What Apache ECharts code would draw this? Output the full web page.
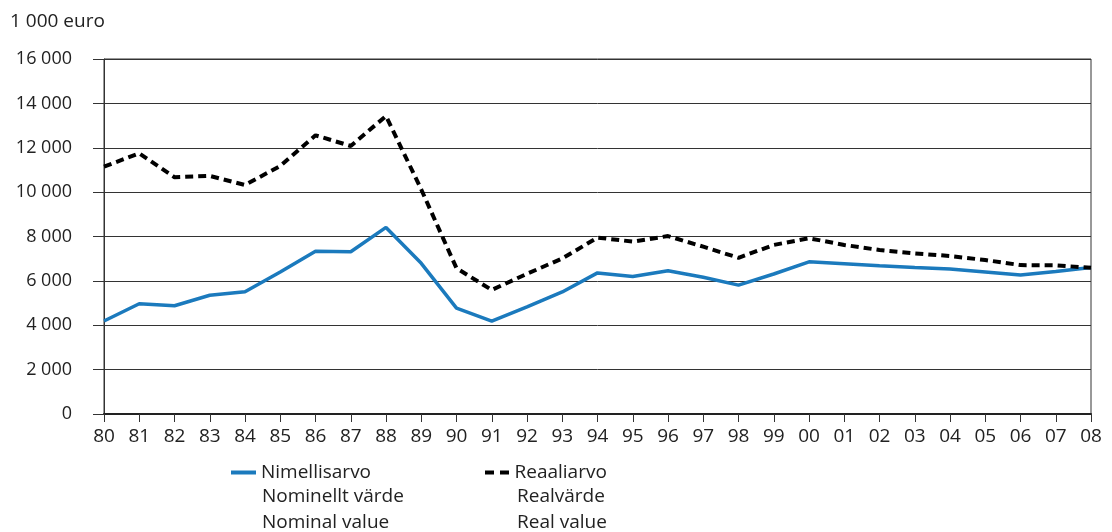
<!DOCTYPE html>
<html>
<head>
<meta charset="utf-8">
<script src="https://cdn.jsdelivr.net/npm/echarts@6/dist/echarts.min.js"></script>
<style>
  html, body { margin: 0; padding: 0; background: #fff; }
  #main { width: 1112px; height: 532px; }
</style>
</head>
<body>
<div id="main"></div>
<script>
  // vuodet 1980-2008
  var years = ['80','81','82','83','84','85','86','87','88','89','90','91','92','93','94',
    '95','96','97','98','99','00','01','02','03','04','05','06','07','08'];

  // nimellisarvo (1 000 euro)
  var nominal = [4190, 4970, 4880, 5350, 5510, 6400, 7340, 7310, 8410, 6790, 4770, 4190, 4830, 5500, 6360,
    6200, 6460, 6160, 5810, 6310, 6860, 6770, 6680, 6600, 6530, 6400, 6260, 6420, 6600];

  // reaaliarvo (1 000 euro)
  var real = [11150, 11750, 10670, 10730, 10320, 11180, 12560, 12080, 13430, 10120, 6570, 5590, 6320, 7010, 7950,
    7770, 8020, 7540, 7040, 7620, 7920, 7620, 7390, 7240, 7120, 6940, 6710, 6700, 6590];

  // selitteen lisärivit (ruotsi, englanti)
  var nominalExtra = ['Nominellt värde', 'Nominal value'];
  var realExtra = ['Realvärde', 'Real value'];

  var font = '"Open Sans", "Noto Sans", sans-serif';
  var txt = '#222';

  function legendCfg(name, left, icon) {
    return {
      data: [{ name: name, icon: icon }],
      left: left,
      top: 458,
      itemWidth: 25,
      itemHeight: 4,
      itemGap: 6,
      selectedMode: false,
      textStyle: { fontFamily: font, fontSize: 19, color: txt }
    };
  }

  function extraText(lines, x) {
    return lines.map(function (s, i) {
      return {
        type: 'text',
        left: x,
        top: 487 + i * 26,
        style: { text: s, fill: txt, font: '19px ' + font }
      };
    });
  }

  var option = {
    animation: false,
    textStyle: { fontFamily: font },
    grid: {
      left: 104,
      right: 21,
      top: 59,
      bottom: 118,
      show: true,
      borderColor: '#333',
      borderWidth: 1
    },
    legend: [
      legendCfg('Nimellisarvo', 226, 'path://M0,0H25V4H0Z'),
      legendCfg('Reaaliarvo', 480, 'path://M0,0H9V4H0Z M15,0H24V4H15Z')
    ],
    graphic: extraText(nominalExtra, 262).concat(extraText(realExtra, 517)),
    xAxis: {
      type: 'category',
      data: years,
      boundaryGap: false,
      axisLine: { lineStyle: { color: '#222', width: 2 } },
      axisTick: { length: 8, lineStyle: { color: '#333', width: 1 } },
      axisLabel: { color: txt, fontSize: 19, margin: 13, interval: 0, fontFamily: font }
    },
    yAxis: {
      type: 'value',
      min: 0,
      max: 16000,
      interval: 2000,
      name: '1 000 euro',
      nameLocation: 'end',
      nameGap: 28,
      nameTextStyle: { color: txt, fontSize: 19, align: 'left', padding: [0, 0, 0, -94], fontFamily: font },
      axisLine: { show: true, lineStyle: { color: '#333', width: 1 } },
      axisTick: { show: true, length: 11, lineStyle: { color: '#333' } },
      axisLabel: {
        color: txt,
        fontSize: 18,
        margin: 32,
        fontFamily: font,
        formatter: function (v) { return String(v).replace(/\B(?=(\d{3})+(?!\d))/g, ' '); }
      },
      splitLine: { lineStyle: { color: '#333', width: 1 } }
    },
    series: [
      {
        name: 'Nimellisarvo',
        type: 'line',
        data: nominal,
        symbol: 'none',
        lineStyle: { color: '#1b7abd', width: 3.5 },
        itemStyle: { color: '#1b7abd' }
      },
      {
        name: 'Reaaliarvo',
        type: 'line',
        data: real,
        symbol: 'none',
        lineStyle: { color: '#000', width: 4, type: [8, 5] },
        itemStyle: { color: '#000' }
      }
    ]
  };

  var chart = echarts.init(document.getElementById('main'), null, { renderer: 'canvas' });
  chart.setOption(option);
</script>
</body>
</html>
